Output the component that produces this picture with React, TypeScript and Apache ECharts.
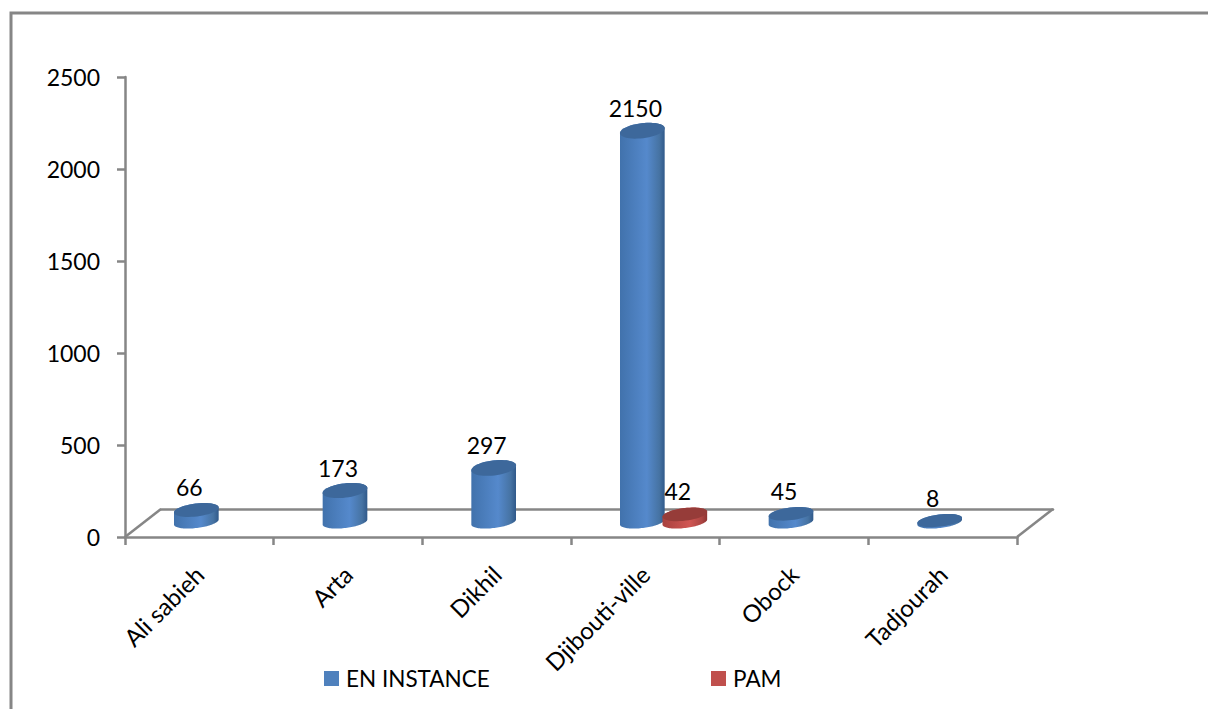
import React, { useEffect, useRef } from "react";
import * as echarts from "echarts";

const categories = ["Ali sabieh", "Arta", "Dikhil", "Djibouti-ville", "Obock", "Tadjourah"];
const enInstance = [66, 173, 297, 2150, 45, 8];
const pam = [null, null, null, 42, null, null];

const FONT = "Lato";
const AXIS_COLOR = "#868686";
const AXIS_WIDTH = 2.5;

// Sampled outline of a slightly tilted ellipse, from angle a0 to a1.
function ellipseArc(cx: number, cy: number, rx: number, ry: number, a0: number, a1: number) {
  const tilt = (-7 * Math.PI) / 180;
  const pts: number[][] = [];
  const steps = 48;
  for (let i = 0; i <= steps; i++) {
    const a = a0 + ((a1 - a0) * i) / steps;
    const x = rx * Math.cos(a);
    const y = ry * Math.sin(a);
    pts.push([cx + x * Math.cos(tilt) - y * Math.sin(tilt), cy + x * Math.sin(tilt) + y * Math.cos(tilt)]);
  }
  return pts;
}

type Palette = { top: string; stops: [number, string][] };

const bluePalette: Palette = {
  top: "#3D689B",
  stops: [
    [0, "#4172AC"],
    [0.6, "#5589CC"],
    [0.88, "#4673A3"],
    [1, "#30598A"],
  ],
};
const redPalette: Palette = {
  top: "#963C39",
  stops: [
    [0, "#A8413E"],
    [0.6, "#D05653"],
    [0.88, "#AC4542"],
    [1, "#8E3533"],
  ],
};

// Cylinder whose base and top sit on the mid-depth plane of the floor.
function cylinder(offset: number, palette: Palette) {
  return (params: any, api: any) => {
    const value = api.value(1);
    if (value === null || value === undefined || isNaN(value)) return undefined;
    const [cx0, topY] = api.coord([api.value(0), value]);
    const [, baseY] = api.coord([api.value(0), 0]);
    const cx = cx0 + offset;
    const rx = 22.5;
    const ry = 6;
    // taller cylinders show a little more of their top face
    const topRy = ry + Math.min(value / 150, 1.5);
    const body = [
      ...ellipseArc(cx, baseY, rx, ry, 0, Math.PI),
      ...ellipseArc(cx, topY, rx, topRy, Math.PI, 2 * Math.PI),
    ];
    return {
      type: "group",
      children: [
        {
          type: "polygon",
          shape: { points: body },
          style: {
            fill: new echarts.graphic.LinearGradient(
              0,
              0,
              1,
              0,
              palette.stops.map(([o, color]) => ({ offset: o, color }))
            ),
          },
        },
        {
          type: "polygon",
          shape: { points: ellipseArc(cx, topY, rx, topRy, 0, 2 * Math.PI) },
          style: { fill: palette.top },
        },
        {
          type: "text",
          x: cx - 7,
          y: topY - 23,
          style: {
            text: String(value),
            fontFamily: FONT,
            fontSize: 23,
            fill: "#000",
            align: "center",
            verticalAlign: "middle",
          },
        },
      ],
    };
  };
}

export default function App() {
  const ref = useRef<HTMLDivElement>(null);

  useEffect(() => {
    const chart = echarts.init(ref.current!, undefined, { renderer: "svg" });
    const hiddenAxis = { show: false };
    const legendBase = {
      top: 667,
      padding: 0,
      itemWidth: 15,
      itemHeight: 15,
      itemGap: 0,
      icon: "rect",
      selectedMode: false,
      textStyle: { color: "#000", fontFamily: FONT, fontSize: 22.5, padding: [0, 0, 0, 2] },
    };
    const axisLine = { lineStyle: { color: AXIS_COLOR, width: AXIS_WIDTH } };
    chart.setOption({
      animation: false,
      backgroundColor: "#fff",
      textStyle: { fontFamily: FONT },
      grid: [
        // front edge of the floor, carries the visible axes
        { left: 125, top: 77, width: 892, height: 460 },
        // back edge of the floor
        { left: 161, top: 49, width: 892, height: 460 },
        // mid-depth plane on which the cylinders stand
        { left: 143, top: 67, width: 892, height: 455 },
      ],
      xAxis: [
        {
          type: "category",
          gridIndex: 0,
          data: categories,
          axisLine,
          axisTick: { show: true, alignWithLabel: false, interval: 0, length: 8, lineStyle: { color: AXIS_COLOR, width: AXIS_WIDTH } },
          axisLabel: {
            rotate: 45,
            interval: 0,
            margin: 33,
            color: "#000",
            fontFamily: FONT,
            fontSize: 24,
          },
        },
        {
          type: "category",
          gridIndex: 1,
          data: categories,
          axisLine,
          axisTick: { show: false },
          axisLabel: { show: false },
        },
        { type: "category", gridIndex: 2, data: categories, ...hiddenAxis },
      ],
      yAxis: [
        {
          type: "value",
          gridIndex: 0,
          min: 0,
          max: 2500,
          interval: 500,
          splitLine: { show: false },
          axisLine: { show: true, ...axisLine },
          axisTick: { show: true, length: 8, lineStyle: { color: AXIS_COLOR, width: AXIS_WIDTH } },
          axisLabel: {
            margin: 25,
            color: "#000",
            fontFamily: FONT,
            fontSize: 23,
            padding: [4, 0, 0, 0],
            formatter: (v: number) => String(v),
          },
        },
        { type: "value", gridIndex: 1, min: 0, max: 2500, ...hiddenAxis },
        { type: "value", gridIndex: 2, min: 0, max: 2500, ...hiddenAxis },
      ],
      legend: [
        { ...legendBase, data: ["EN INSTANCE"], left: 324 },
        { ...legendBase, data: ["PAM"], left: 711 },
      ],
      graphic: [
        {
          type: "polyline",
          silent: true,
          shape: { points: [[11, 709], [11, 13], [1208, 13]] },
          style: { stroke: AXIS_COLOR, lineWidth: 3, fill: "none" },
        },
        {
          type: "line",
          silent: true,
          shape: { x1: 125, y1: 537, x2: 161, y2: 509 },
          style: { stroke: AXIS_COLOR, lineWidth: AXIS_WIDTH },
        },
        {
          type: "line",
          silent: true,
          shape: { x1: 1017, y1: 537, x2: 1053, y2: 509 },
          style: { stroke: AXIS_COLOR, lineWidth: AXIS_WIDTH },
        },
      ],
      series: [
        {
          name: "EN INSTANCE",
          type: "custom",
          xAxisIndex: 2,
          yAxisIndex: 2,
          z: 5,
          clip: false,
          itemStyle: { color: "#4F81BD" },
          data: enInstance.map((v, i) => [i, v]),
          encode: { x: 0, y: 1 },
          renderItem: cylinder(-21, bluePalette),
        },
        {
          name: "PAM",
          type: "custom",
          xAxisIndex: 2,
          yAxisIndex: 2,
          z: 6,
          clip: false,
          itemStyle: { color: "#C0504D" },
          data: pam.map((v, i) => [i, v]),
          encode: { x: 0, y: 1 },
          renderItem: cylinder(21.5, redPalette),
        },
      ],
    });
    return () => chart.dispose();
  }, []);

  return (
    <div
      ref={ref}
      style={{ position: "absolute", left: 0, top: 0, width: 1208, height: 709, overflow: "hidden" }}
    />
  );
}
